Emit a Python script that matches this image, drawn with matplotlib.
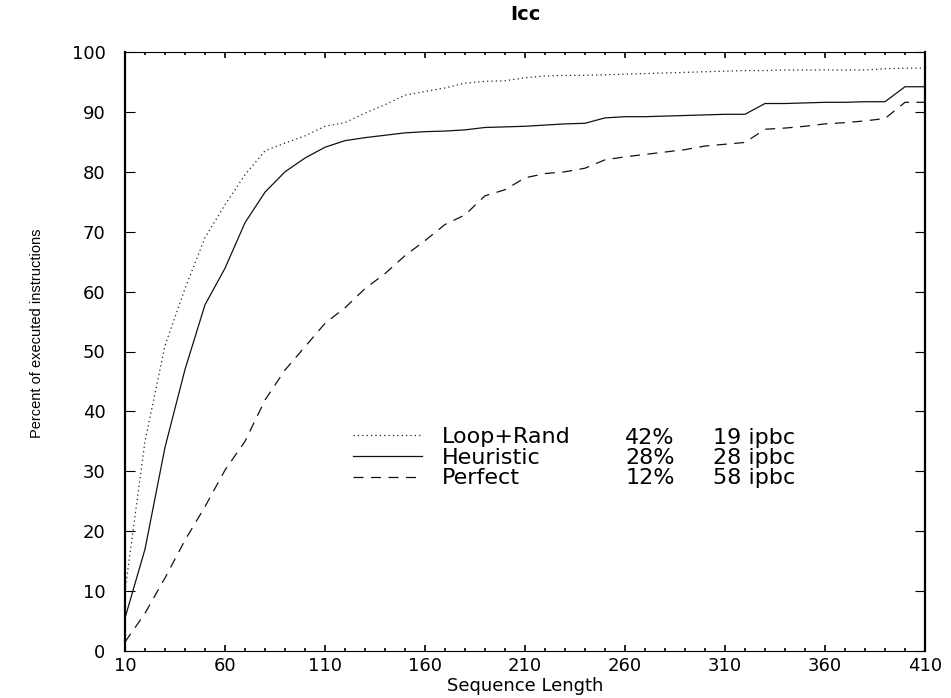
import matplotlib
matplotlib.use('Agg')
import matplotlib.pyplot as plt
import numpy as np

# sequence lengths 10..410
seq_len = list(range(10, 411, 10))

loop_rand = [10, 35, 51, 60.5, 69, 74.5, 79.5, 83.5, 84.8, 86, 87.6, 88.2, 89.8, 91.2,
			 92.8, 93.4, 94, 94.8, 95.1, 95.2, 95.7, 96, 96.1, 96.1, 96.2, 96.3, 96.4,
			 96.5, 96.6, 96.7, 96.8, 96.9, 96.9, 97, 97, 97, 97, 97, 97.2, 97.3, 97.3]
heuristic = [5.5, 17, 34, 47, 57.8, 63.9, 71.5, 76.6, 80, 82.3, 84.1, 85.2, 85.7, 86.1,
			 86.5, 86.7, 86.8, 87, 87.4, 87.5, 87.6, 87.8, 88, 88.1, 89, 89.2, 89.2,
			 89.3, 89.4, 89.5, 89.6, 89.6, 91.4, 91.4, 91.5, 91.6, 91.6, 91.7, 91.7, 94.2, 94.2]
perfect = [1.5, 6.3, 12.2, 18.5, 24.1, 30.2, 35, 41.9, 46.9, 50.8, 54.7, 57.3, 60.5, 63,
		   66, 68.5, 71.2, 72.8, 76, 77, 79, 79.7, 80, 80.6, 82, 82.5, 82.9, 83.3, 83.7,
		   84.3, 84.6, 84.9, 87.1, 87.3, 87.6, 88, 88.2, 88.5, 88.9, 91.6, 91.6]

names = ['Loop+Rand', 'Heuristic', 'Perfect']
pct = ['42%', '28%', '12%']
ipbc = ['19 ipbc', '28 ipbc', '58 ipbc']

plt.rcParams['font.family'] = ['DejaVu Sans']

fig = plt.figure(figsize=(9.51, 6.98), dpi=100)
ax = fig.add_axes([125/951, 1 - 651/698, 800/951, 599/698])

lw = 0.9
ax.plot(seq_len, loop_rand, color='#222222', lw=lw, linestyle=(0, (1, 2.5)), label=names[0])
ax.plot(seq_len, heuristic, color='#111111', lw=lw, linestyle='-', label=names[1])
ax.plot(seq_len, perfect, color='#111111', lw=lw, linestyle=(0, (8, 6)), label=names[2])

ax.set_xlim(10, 410)
ax.set_ylim(0, 100)
ax.set_xticks(np.arange(10, 411, 50))
ax.set_xticks(np.arange(10, 411, 10), minor=True)
ax.set_yticks(np.arange(0, 101, 10))
ax.tick_params(axis='both', which='both', direction='in', top=True, right=True, labelsize=13)
ax.tick_params(axis='y', which='major', length=7, width=0.8, pad=14)
ax.tick_params(axis='x', which='major', length=4, width=1.2, pad=4)
ax.tick_params(axis='x', which='minor', length=2.5, width=1.2)
ax.spines['left'].set_linewidth(1.6)
ax.spines['right'].set_linewidth(1.6)
ax.spines['top'].set_linewidth(0.8)
ax.spines['bottom'].set_linewidth(0.8)

fig.text(525/951, 1 - 691/698, 'Sequence Length', ha='center', va='baseline', fontsize=13)
fig.text(37/951, 1 - 333/698, 'Percent of executed instructions', rotation=90,
		 ha='center', va='center', fontsize=10.5, family=['Liberation Sans', 'DejaVu Sans'])
fig.text(525/951, 1 - 15/698, 'Icc', ha='center', va='center', fontsize=14, fontweight='bold')

leg = ax.legend(loc='upper left', bbox_to_anchor=((353 - 125)/800, (651 - 427)/599),
				frameon=False, fontsize=16, handlelength=3.1, handletextpad=0.9,
				labelspacing=0.03, borderpad=0, borderaxespad=0)

row_y = [437.5, 458, 478.5]
for i in range(3):
	yy = (651 - row_y[i]) / 599
	ax.text((650 - 125)/800, yy, pct[i], transform=ax.transAxes, ha='center', va='center', fontsize=16)
	ax.text((754 - 125)/800, yy, ipbc[i], transform=ax.transAxes, ha='center', va='center', fontsize=16)

fig.savefig('out.png', dpi=100)
